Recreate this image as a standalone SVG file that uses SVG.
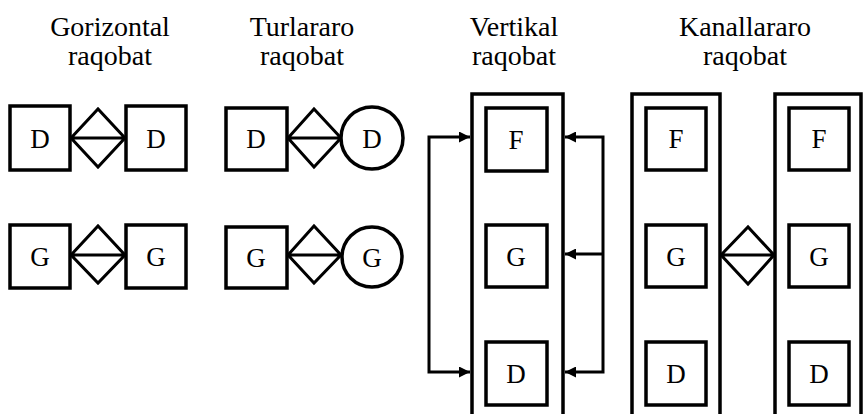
<svg xmlns="http://www.w3.org/2000/svg" width="864" height="414" viewBox="0 0 864 414">
<defs>
<style>
.t{font-family:"Liberation Serif","Times New Roman",serif;font-size:28px;fill:#000;text-anchor:middle}
.l{font-family:"Liberation Serif","Times New Roman",serif;font-size:27px;fill:#000;text-anchor:middle}
.b{fill:#fff;stroke:#000;stroke-width:3.5}
.o{fill:none;stroke:#000;stroke-width:3.5}
.d{fill:#fff;stroke:#000;stroke-width:3;stroke-linejoin:miter}
.c{fill:none;stroke:#000;stroke-width:3}
</style>
<marker id="ah" viewBox="0 0 10 10" refX="10" refY="5" markerWidth="14" markerHeight="11" markerUnits="userSpaceOnUse" orient="auto-start-reverse">
<path d="M0,0 L10,5 L0,10 z" fill="#000"/>
</marker>
</defs>
<rect width="864" height="414" fill="#fff"/>

<g id="titles">
<text class="t" x="110" y="36">Gorizontal</text>
<text class="t" x="110" y="65">raqobat</text>
<text class="t" x="302" y="36">Turlararo</text>
<text class="t" x="302" y="65">raqobat</text>
<text class="t" x="514" y="36">Vertikal</text>
<text class="t" x="514" y="65">raqobat</text>
<text class="t" x="745" y="36">Kanallararo</text>
<text class="t" x="745" y="65">raqobat</text>
</g>

<!-- Gorizontal -->
<g id="h-d1"><rect class="b" x="10" y="106" width="60" height="64"/><text class="l" x="40" y="148">D</text></g>
<g id="h-d2"><rect class="b" x="126" y="106" width="60" height="64"/><text class="l" x="156" y="148">D</text></g>
<g id="h-dd"><path class="d" d="M71,138 L98,109 L125,138 L98,167 Z M71,138 H125"/></g>
<g id="h-g1"><rect class="b" x="10" y="225" width="60" height="63"/><text class="l" x="40" y="266">G</text></g>
<g id="h-g2"><rect class="b" x="126" y="225" width="60" height="63"/><text class="l" x="156" y="266">G</text></g>
<g id="h-gd"><path class="d" d="M71,255 L98,226 L125,255 L98,283 Z M71,255 H125"/></g>

<!-- Turlararo -->
<g id="t-d1"><rect class="b" x="226" y="108" width="61" height="62"/><text class="l" x="256" y="148">D</text></g>
<g id="t-dd"><path class="d" d="M288,138 L314,109 L341,138 L314,167 Z M288,138 H341"/></g>
<g id="t-d2"><circle class="b" cx="372" cy="138" r="31"/><text class="l" x="372" y="148">D</text></g>
<g id="t-g1"><rect class="b" x="226" y="227" width="61" height="61"/><text class="l" x="256" y="267">G</text></g>
<g id="t-gd"><path class="d" d="M288,255 L314,226 L341,255 L314,283 Z M288,255 H341"/></g>
<g id="t-g2"><circle class="b" cx="372" cy="257" r="30"/><text class="l" x="372" y="267">G</text></g>

<!-- Vertikal -->
<g id="v-frame"><path class="o" d="M472,420 V94 H563 V420"/></g>
<g id="v-f"><rect class="b" x="486" y="108" width="61" height="63"/><text class="l" x="516" y="149">F</text></g>
<g id="v-g"><rect class="b" x="486" y="225" width="61" height="62"/><text class="l" x="516" y="266">G</text></g>
<g id="v-d"><rect class="b" x="486" y="342" width="61" height="63"/><text class="l" x="516" y="383">D</text></g>

<!-- Kanallararo -->
<g id="k-frame1"><path class="o" d="M632,420 V94 H720 V420"/></g>
<g id="k-f1"><rect class="b" x="646" y="108" width="60" height="62"/><text class="l" x="676" y="148">F</text></g>
<g id="k-g1"><rect class="b" x="646" y="225" width="60" height="62"/><text class="l" x="676" y="266">G</text></g>
<g id="k-d1"><rect class="b" x="646" y="342" width="60" height="63"/><text class="l" x="676" y="383">D</text></g>
<g id="k-frame2"><path class="o" d="M775,420 V94 H861 V420"/></g>
<g id="k-f2"><rect class="b" x="789" y="108" width="60" height="62"/><text class="l" x="819" y="148">F</text></g>
<g id="k-g2"><rect class="b" x="789" y="225" width="60" height="62"/><text class="l" x="819" y="266">G</text></g>
<g id="k-d2"><rect class="b" x="789" y="342" width="60" height="63"/><text class="l" x="819" y="383">D</text></g>
<g id="k-dia"><path class="d" d="M721,255 L748,227 L774,255 L748,284 Z M721,255 H774"/></g>

<g id="connectors">
<path class="c" d="M470,137 H429 V372 H470" marker-start="url(#ah)" marker-end="url(#ah)"/>
<path class="c" d="M565,137 H603 V372 H565" marker-start="url(#ah)" marker-end="url(#ah)"/>
<path class="c" d="M603,254 H565" marker-end="url(#ah)"/>
</g>
</svg>
